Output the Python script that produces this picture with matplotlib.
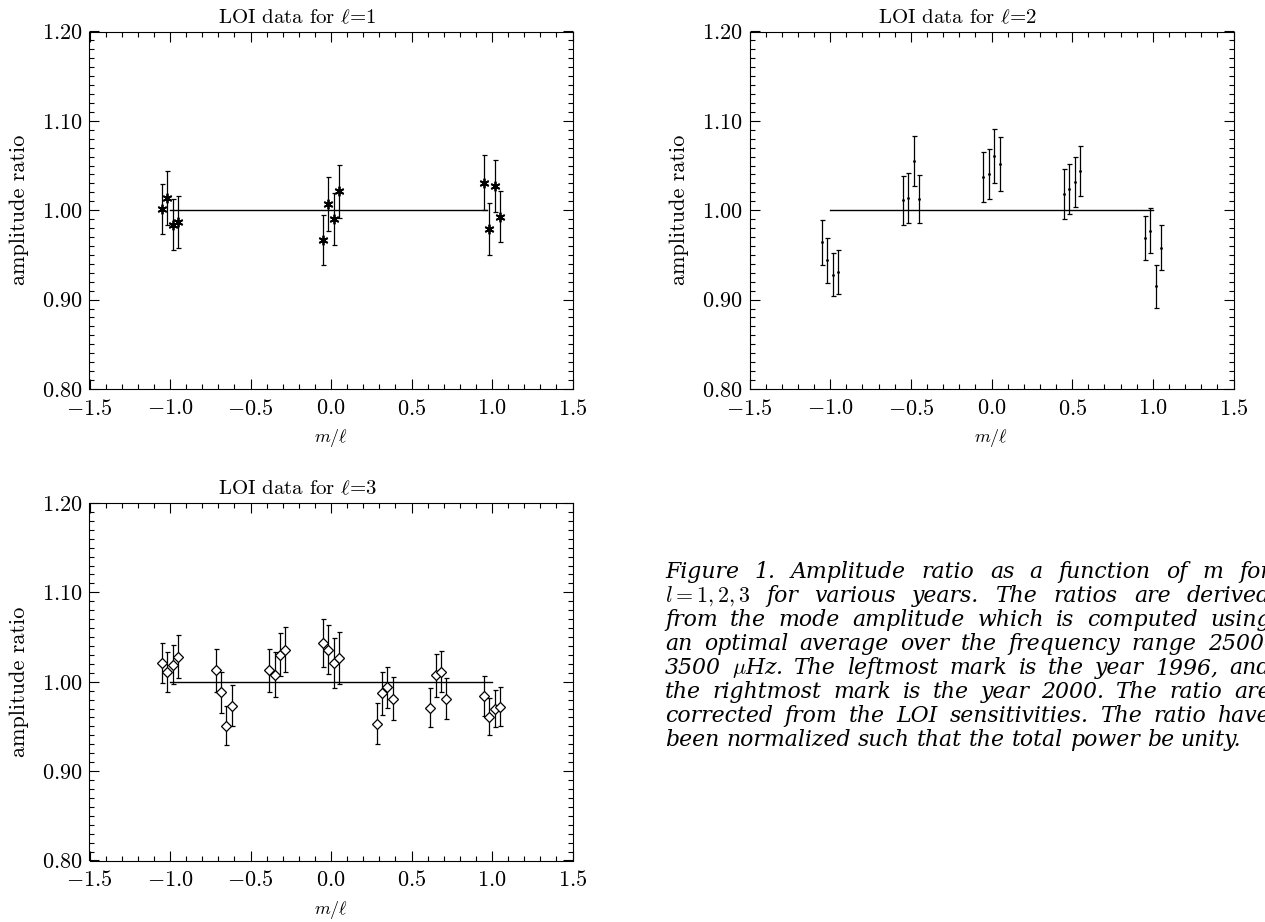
import numpy as np
import matplotlib
matplotlib.use('Agg')
import matplotlib.pyplot as plt
from matplotlib.ticker import MultipleLocator, FuncFormatter

plt.rcParams['mathtext.fontset'] = 'cm'
plt.rcParams['font.family'] = 'serif'
plt.rcParams['font.serif'] = ['cmr10']
plt.rcParams['axes.formatter.use_mathtext'] = True

# offset of each year inside an m/l group (4 years)
year_offsets = [-0.05, -0.0167, 0.0167, 0.05]

# l=1
mvals1 = [-1.0, 0.0, 1.0]
ratio1 = [[1.001, 1.014, 0.984, 0.987],
          [0.967, 1.007, 0.990, 1.021],
          [1.031, 0.979, 1.027, 0.993]]
err1 = [[0.028, 0.030, 0.029, 0.029],
        [0.028, 0.030, 0.029, 0.030],
        [0.031, 0.029, 0.029, 0.029]]
line1_x = [-1.0, 0.97]

# l=2
mvals2 = [-1.0, -0.5, 0.0, 0.5, 1.0]
ratio2 = [[0.964, 0.944, 0.928, 0.931],
          [1.011, 1.014, 1.055, 1.013],
          [1.037, 1.041, 1.061, 1.052],
          [1.018, 1.024, 1.032, 1.044],
          [0.969, 0.977, 0.915, 0.958]]
err2 = [[0.025, 0.025, 0.024, 0.025],
        [0.027, 0.028, 0.028, 0.027],
        [0.028, 0.028, 0.030, 0.030],
        [0.028, 0.028, 0.028, 0.028],
        [0.025, 0.025, 0.024, 0.025]]
line2_x = [-1.0, 1.0]

# l=3
mvals3 = [-1.0, -2/3, -1/3, 0.0, 1/3, 2/3, 1.0]
ratio3 = [[1.021, 1.011, 1.019, 1.028],
          [1.013, 0.988, 0.951, 0.973],
          [1.013, 1.008, 1.030, 1.036],
          [1.043, 1.036, 1.021, 1.027],
          [0.953, 0.987, 0.994, 0.981],
          [0.971, 1.007, 1.011, 0.981],
          [0.984, 0.961, 0.970, 0.972]]
err3 = [[0.022, 0.022, 0.022, 0.024],
        [0.024, 0.023, 0.022, 0.023],
        [0.024, 0.025, 0.024, 0.025],
        [0.027, 0.027, 0.028, 0.029],
        [0.023, 0.024, 0.023, 0.024],
        [0.022, 0.024, 0.023, 0.023],
        [0.022, 0.021, 0.021, 0.022]]
line3_x = [-1.0, 1.0]

caption = [
    "Figure 1.  Amplitude ratio as a function of m for",
    "$l = 1, 2, 3$ for various years. The ratios are derived",
    "from the mode amplitude which is computed using",
    "an optimal average over the frequency range 2500-",
    "3500 $\\mu$Hz. The leftmost mark is the year 1996, and",
    "the rightmost mark is the year 2000. The ratio are",
    "corrected from the LOI sensitivities. The ratio have",
    "been normalized such that the total power be unity.",
]

W, H = 1265, 922
fig = plt.figure(figsize=(W / 100, H / 100), dpi=100)


def panel(rect, l, mvals, ratio, err, line_x, marker, ms):
    ax = fig.add_axes(rect)
    x = (np.array(mvals)[:, None] + np.array(year_offsets)[None, :]).ravel()
    y = np.array(ratio).ravel()
    e = np.array(err).ravel()
    ax.plot(line_x, [1.0, 1.0], color='black', lw=1.0)
    ax.errorbar(x, y, yerr=e, fmt='none', ecolor='black', elinewidth=0.9,
                capsize=1.8, capthick=0.9)
    if marker == 'D':
        ax.plot(x, y, ls='none', marker='D', ms=ms, mfc='white', mec='black', mew=0.9)
    else:
        ax.plot(x, y, ls='none', marker=marker, ms=ms, color='black', mew=1.3)
    ax.set_xlim(-1.5, 1.5)
    ax.set_ylim(0.8, 1.2)
    ax.xaxis.set_major_locator(MultipleLocator(0.5))
    ax.xaxis.set_minor_locator(MultipleLocator(0.1))
    ax.yaxis.set_major_locator(MultipleLocator(0.1))
    ax.yaxis.set_minor_locator(MultipleLocator(0.01))
    ax.xaxis.set_major_formatter(FuncFormatter(lambda v, p: r'$%.1f$' % v))
    ax.yaxis.set_major_formatter(FuncFormatter(lambda v, p: r'$%.2f$' % v))
    ax.tick_params(which='both', direction='in', top=True, right=True, width=0.8)
    ax.tick_params(which='major', length=7, labelsize=16)
    ax.tick_params(which='minor', length=3.5)
    ax.tick_params(axis='x', pad=7)
    ax.tick_params(axis='y', pad=5)
    for s in ax.spines.values():
        s.set_linewidth(0.8)
    ax.set_title(r'LOI data for $\ell$=%d' % l, x=0.43, fontsize=15, pad=6)
    ax.set_ylabel('amplitude ratio', fontsize=16, labelpad=9)
    ax.set_xlabel(r'$m/\ell$', fontsize=13, labelpad=6)
    return ax


panel([89.5 / W, 1 - 389 / H, 483 / W, 357.5 / H], 1, mvals1, ratio1, err1, line1_x, (6, 2, 0), 7)
panel([749.5 / W, 1 - 389 / H, 484 / W, 357.5 / H], 2, mvals2, ratio2, err2, line2_x, '.', 1.5)
panel([89.5 / W, 1 - 860.5 / H, 483 / W, 357.5 / H], 3, mvals3, ratio3, err3, line3_x, 'D', 5)

# caption, justified like the original text block (cut at the right edge as in the original)
renderer = fig.canvas.get_renderer()
x0, x1 = 665, 1271
y0, dy = 578, 24
for i, line in enumerate(caption):
    words = line.split()
    if line.startswith('$l'):
        words = ['$l = 1, 2, 3$'] + line.split('$')[2].split()
    texts = [fig.text(0, 1 - (y0 + i * dy) / H, w, fontsize=15.8, family='DejaVu Serif',
                      style='italic', va='baseline') for w in words]
    widths = [t.get_window_extent(renderer=renderer).width for t in texts]
    if i == len(caption) - 1:
        gap = 7
    else:
        gap = (x1 - x0 - sum(widths)) / (len(words) - 1)
    x = x0
    for t, w in zip(texts, widths):
        t.set_x(x / W)
        x += w + gap

fig.savefig('out.png', dpi=100)
